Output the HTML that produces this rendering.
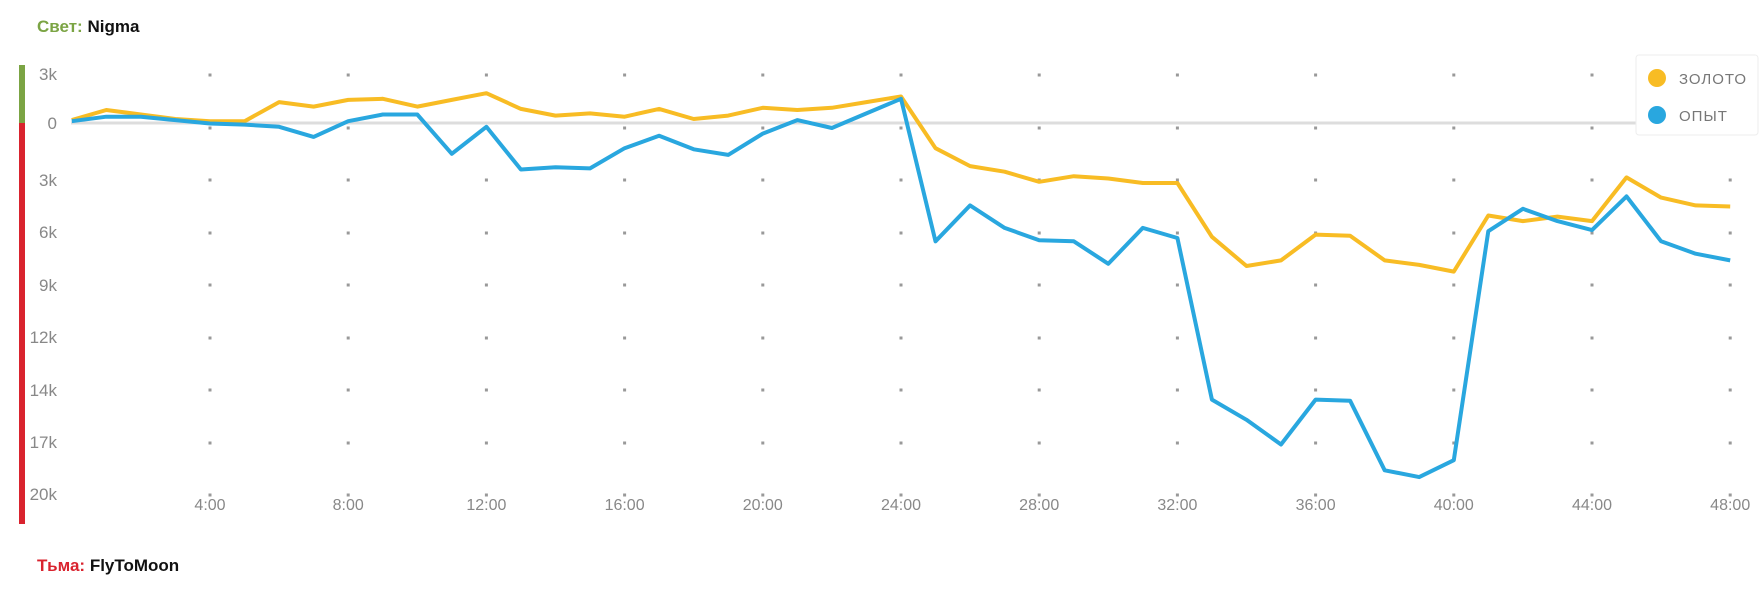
<!DOCTYPE html>
<html><head><meta charset="utf-8"><style>
body{margin:0;background:#fff;width:1762px;height:588px;overflow:hidden;font-family:"Liberation Sans",sans-serif}
</style></head><body>
<svg id="s" width="1762" height="588" xmlns="http://www.w3.org/2000/svg" font-family="Liberation Sans, sans-serif">
<text x="37" y="32" font-size="17" font-weight="bold" fill="#7ba444">Свет: <tspan fill="#111">Nigma</tspan></text>
<text x="37" y="571" font-size="17" font-weight="bold" fill="#d9232e">Тьма: <tspan fill="#111">FlyToMoon</tspan></text>
<rect x="19" y="65" width="6" height="58" fill="#7ba444"/>
<rect x="19" y="123" width="6" height="401" fill="#d9232e"/>
<line x1="71" y1="123" x2="1740" y2="123" stroke="#ddd" stroke-width="3"/>
<g id="dots" fill="#999"></g>
<g font-size="17" fill="#888" text-anchor="end">
<text x="57" y="80">3k</text><text x="57" y="129">0</text><text x="57" y="186">3k</text><text x="57" y="238">6k</text><text x="57" y="291">9k</text><text x="57" y="343">12k</text><text x="57" y="396">14k</text><text x="57" y="448">17k</text><text x="57" y="500">20k</text>
</g>
<g id="xl" font-size="16" fill="#888" text-anchor="middle"></g>
<polyline id="g" fill="none" stroke="#F8BC24" stroke-width="4" stroke-linejoin="round"/>
<polyline id="b" fill="none" stroke="#29A7DF" stroke-width="4" stroke-linejoin="round"/>
<rect x="1636" y="55" width="122" height="80" rx="3" fill="#fff" stroke="#eee"/>
<circle cx="1657" cy="78" r="9" fill="#F8BC24"/><circle cx="1657" cy="115" r="9" fill="#29A7DF"/>
<text x="1679" y="84" font-size="15" fill="#777" letter-spacing="1">ЗОЛОТО</text>
<text x="1679" y="121" font-size="15" fill="#777" letter-spacing="1">ОПЫТ</text>
</svg>
<script>
var G=[107,98,102,106,108,108,109,91,95,89,88,95,89,83,97,103,101,104,97,106,103,96,98,96,91,86,132,148,153,162,157,159,163,163,211,237,232,209,210,232,236,242,192,197,193,197,158,176,183,184];
G.splice(6,1);
var B=[108,104,104,107,110,111,113,122,108,102,102,137,113,151,149,150,132,121,133,138,119,107,114,101,88,215,183,203,214,215,235,203,212,356,374,396,356,357,419,425,410,206,186,197,205,175,215,226,232];
function pts(a){return a.map(function(v,h){return (71.8+h*34.55).toFixed(1)+","+(v*1.1225).toFixed(1)}).join(" ")}
document.getElementById('g').setAttribute('points',pts(G));
document.getElementById('b').setAttribute('points',pts(B));
var d=document.getElementById('dots'),xl=document.getElementById('xl'),ns="http://www.w3.org/2000/svg";
var rows=[75,128,180,233,285,338,390,443,495];
for(var k=0;k<12;k++){var x=210+k*138.2;
 rows.forEach(function(y){var r=document.createElementNS(ns,'rect');r.setAttribute('x',x-1.5);r.setAttribute('y',y-1.5);r.setAttribute('width',3);r.setAttribute('height',3);d.appendChild(r);});
 var t=document.createElementNS(ns,'text');t.setAttribute('x',x);t.setAttribute('y',510);t.textContent=((k+1)*4)+":00";xl.appendChild(t);}
</script>
</body></html>
